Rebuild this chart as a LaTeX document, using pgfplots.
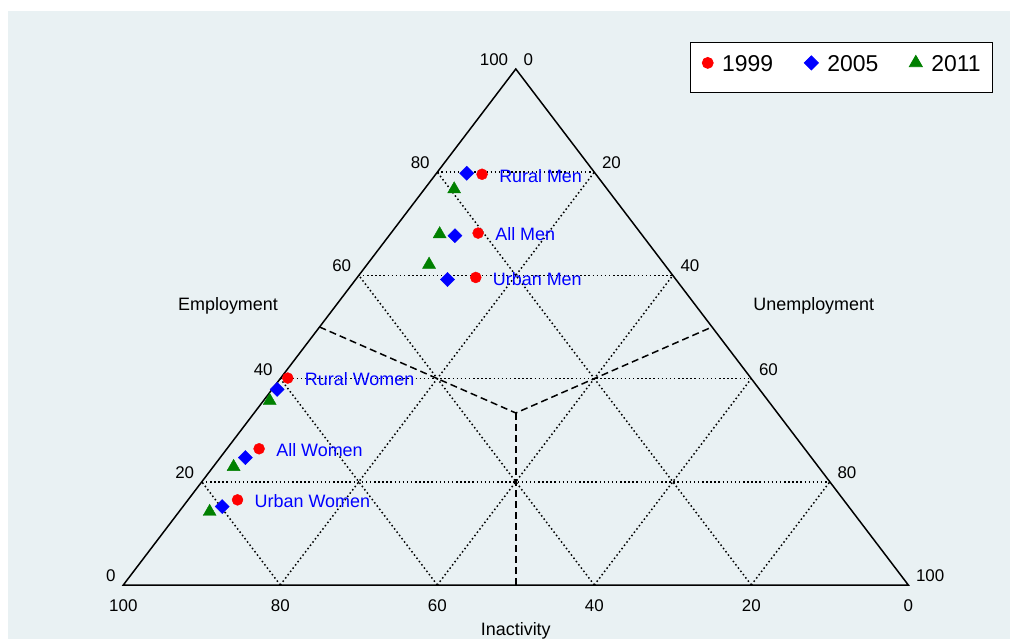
\documentclass[border=0pt]{standalone}
\usepackage{fontspec}
\setmainfont{Liberation Sans}
\usepackage{pgfplots}
\usepackage{pgfplotstable}
\pgfplotsset{compat=1.18}
\definecolor{bgc}{RGB}{233,241,243}
\definecolor{mkgreen}{RGB}{0,128,0}
\tikzset{tnode/.style={font=\fontsize{17}{20}\selectfont, inner sep=0pt},
         lnode/.style={font=\fontsize{18}{21}\selectfont, inner sep=0pt}}

% Employment (E) and Unemployment (U) shares in percent; Inactivity = 100 - E - U
\pgfplotstableread[col sep=comma]{
group,E,U
Rural Men,79.6,5.9
All Men,68.2,11.1
Urban Men,59.6,15.1
Rural Women,40.1,0.9
All Women,26.4,4.1
Urban Women,16.5,6.3
}\tabA
\pgfplotstableread[col sep=comma]{
group,E,U
Rural Men,79.8,3.85
All Men,67.7,8.4
Urban Men,59.2,11.7
Rural Women,37.9,0.65
All Women,24.7,3.2
Urban Women,15.2,5.0
}\tabB
\pgfplotstableread[col sep=comma]{
group,E,U
Rural Men,76.7,3.8
All Men,68.0,6.3
Urban Men,62.1,7.9
Rural Women,35.7,0.8
All Women,22.9,2.6
Urban Women,14.2,3.9
}\tabC

\begin{document}
\begin{tikzpicture}
\fill[bgc] (8bp,0) rectangle (1010bp,628bp);
\begin{axis}[
  at={(123.3bp,54bp)}, anchor=south west,
  x=7.85bp, y=5.16bp,
  xmin=0, xmax=100, ymin=0, ymax=100,
  enlargelimits=false,
  axis lines=none, clip=false,
  legend columns=3,
  legend style={at={(1.1079,1.0523)}, anchor=north east, draw=black, line width=0.8bp,
    fill=white, font=\fontsize{23}{27}\selectfont, inner xsep=12bp, inner ysep=12.5bp,
    nodes={inner sep=0pt, text height=17bp, text depth=8bp},
    /tikz/every odd column/.append style={column sep=9bp},
    /tikz/every even column/.append style={column sep=31bp}},
  legend cell align=left,
  legend image code/.code={\draw[#1,yshift=4.5bp] plot coordinates {(0bp,0bp)};},
]
% dotted grid
\begin{scope}[line width=1.5bp, dash pattern=on 1.5bp off 2.6bp]
\draw (axis cs:10,20) -- (axis cs:90,20);
\draw (axis cs:20,40) -- (axis cs:80,40);
\draw (axis cs:30,60) -- (axis cs:70,60);
\draw (axis cs:40,80) -- (axis cs:60,80);
\draw (axis cs:80,0) -- (axis cs:40,80);
\draw (axis cs:60,0) -- (axis cs:30,60);
\draw (axis cs:40,0) -- (axis cs:20,40);
\draw (axis cs:20,0) -- (axis cs:10,20);
\draw (axis cs:20,0) -- (axis cs:60,80);
\draw (axis cs:40,0) -- (axis cs:70,60);
\draw (axis cs:60,0) -- (axis cs:80,40);
\draw (axis cs:80,0) -- (axis cs:90,20);
\end{scope}
% dashed centroid lines
\begin{scope}[line width=1.5bp, dash pattern=on 7bp off 4bp]
\draw (axis cs:50,0) -- (axis cs:50,33.333);
\draw (axis cs:25,50) -- (axis cs:50,33.333) -- (axis cs:75,50);
\end{scope}
% triangle frame
\draw[line width=1.5bp, line join=miter] (axis cs:0,0) -- (axis cs:100,0) -- (axis cs:50,100) -- cycle;

% tick labels: Employment (left side)
\node[tnode, anchor=base east, xshift=-7.5bp, yshift=3.5bp] at (axis cs:0,0) {0};
\node[tnode, anchor=base east, xshift=-7.5bp, yshift=3.5bp] at (axis cs:10,20) {20};
\node[tnode, anchor=base east, xshift=-7.5bp, yshift=3.5bp] at (axis cs:20,40) {40};
\node[tnode, anchor=base east, xshift=-7.5bp, yshift=3.5bp] at (axis cs:30,60) {60};
\node[tnode, anchor=base east, xshift=-7.5bp, yshift=3.5bp] at (axis cs:40,80) {80};
\node[tnode, anchor=base east, xshift=-7.5bp, yshift=3.5bp] at (axis cs:50,100) {100};
% Unemployment (right side)
\node[tnode, anchor=base west, xshift=7.5bp, yshift=3.5bp] at (axis cs:50,100) {0};
\node[tnode, anchor=base west, xshift=7.5bp, yshift=3.5bp] at (axis cs:60,80) {20};
\node[tnode, anchor=base west, xshift=7.5bp, yshift=3.5bp] at (axis cs:70,60) {40};
\node[tnode, anchor=base west, xshift=7.5bp, yshift=3.5bp] at (axis cs:80,40) {60};
\node[tnode, anchor=base west, xshift=7.5bp, yshift=3.5bp] at (axis cs:90,20) {80};
\node[tnode, anchor=base west, xshift=7.5bp, yshift=3.5bp] at (axis cs:100,0) {100};
% Inactivity (bottom)
\node[tnode, anchor=base, yshift=-26.7bp] at (axis cs:0,0) {100};
\node[tnode, anchor=base, yshift=-26.7bp] at (axis cs:20,0) {80};
\node[tnode, anchor=base, yshift=-26.7bp] at (axis cs:40,0) {60};
\node[tnode, anchor=base, yshift=-26.7bp] at (axis cs:60,0) {40};
\node[tnode, anchor=base, yshift=-26.7bp] at (axis cs:80,0) {20};
\node[tnode, anchor=base, yshift=-26.7bp] at (axis cs:100,0) {0};
\node[lnode, anchor=base] at (axis cs:13.34,53.29) {Employment};
\node[lnode, anchor=base] at (axis cs:87.96,53.29) {Unemployment};
\node[lnode, anchor=base] at (axis cs:50,-9.88) {Inactivity};

\addplot[only marks, mark=*, mark size=5.5bp, color=red,
  point meta=explicit symbolic, nodes near coords,
  every node near coord/.append style={anchor=west, xshift=17bp, yshift=-1.4bp,
    text=blue, font=\fontsize{18}{21}\selectfont, inner sep=0pt}]
  table[x expr=\thisrow{U}+0.5*\thisrow{E}, y=E, meta=group]{\tabA};
\addlegendentry{1999}
\addplot[only marks, mark=square*, mark size=5bp, mark options={rotate=45}, color=blue]
  table[x expr=\thisrow{U}+0.5*\thisrow{E}, y=E]{\tabB};
\addlegendentry{2005}
\addplot[only marks, mark=triangle*, mark size=7.5bp, color=mkgreen]
  table[x expr=\thisrow{U}+0.5*\thisrow{E}, y=E]{\tabC};
\addlegendentry{2011}
\end{axis}
\pgfresetboundingbox
\path[use as bounding box] (0,0) rectangle (1010bp,639bp);
\end{tikzpicture}
\end{document}
